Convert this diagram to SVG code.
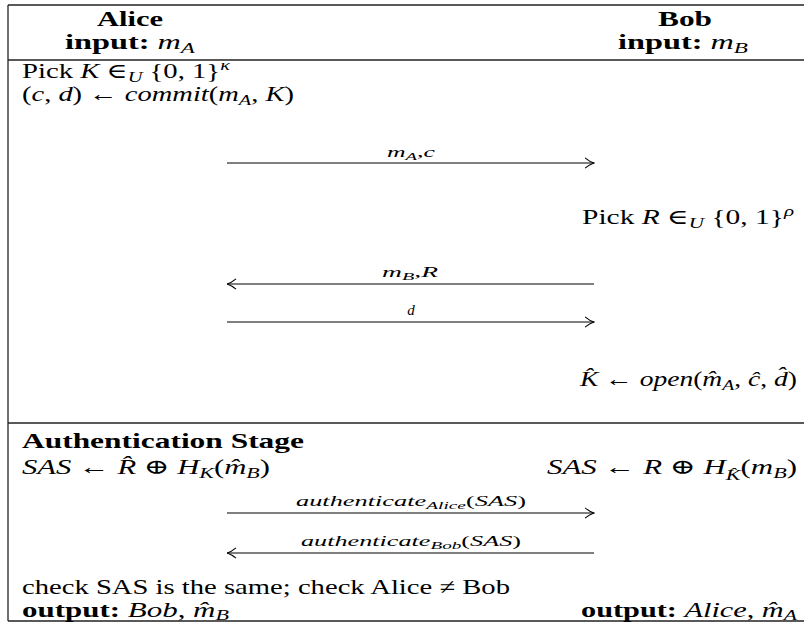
<svg xmlns="http://www.w3.org/2000/svg" width="804" height="623" viewBox="0 0 804 623">
<style>
.t{font-family:"Liberation Serif","DejaVu Serif",serif;font-size:21px;fill:#000}
.b{font-weight:bold}
.i{font-style:italic}
.s{font-size:15px}
.ss{font-size:11px}
.lab{font-size:15px}
.rule{stroke:#222;stroke-width:1.3;fill:none}
.arr{stroke:#000;stroke-width:1.1;fill:none;marker-end:url(#ah)}
</style>
<defs>
<marker id="ah" viewBox="0 0 10 12" refX="9.5" refY="6" markerWidth="10" markerHeight="12" markerUnits="userSpaceOnUse" orient="auto">
<path d="M0.5,0.8 Q5,4.6 9.5,6 Q5,7.4 0.5,11.2" fill="none" stroke="#000" stroke-width="1.1"/>
</marker>
</defs>
<rect width="804" height="623" fill="#fff"/>
<g id="frame">
<line class="rule" x1="8" y1="5" x2="804" y2="5"/>
<line class="rule" x1="8" y1="5" x2="8" y2="621"/>
<line class="rule" x1="8" y1="60" x2="804" y2="60"/>
<line class="rule" x1="8" y1="423" x2="804" y2="423"/>
<line class="rule" x1="8" y1="621" x2="804" y2="621"/>
</g>
<g id="alice-header">
<text class="t b" x="130" y="26" text-anchor="middle" textLength="66" lengthAdjust="spacingAndGlyphs">Alice</text>
<text class="t" x="130" y="49" text-anchor="middle" textLength="130" lengthAdjust="spacingAndGlyphs"><tspan class="b">input:</tspan> <tspan class="i">m</tspan><tspan class="i s" dy="4">A</tspan></text>
</g>
<g id="bob-header">
<text class="t b" x="685" y="26" text-anchor="middle" textLength="54" lengthAdjust="spacingAndGlyphs">Bob</text>
<text class="t" x="683" y="49" text-anchor="middle" textLength="130" lengthAdjust="spacingAndGlyphs"><tspan class="b">input:</tspan> <tspan class="i">m</tspan><tspan class="i s" dy="4">B</tspan></text>
</g>
<g id="alice-commit">
<text class="t" x="22" y="78" textLength="208" lengthAdjust="spacingAndGlyphs">Pick <tspan class="i">K</tspan> ∈<tspan class="i s" dy="4">U</tspan><tspan dy="-4"> {0, 1}</tspan><tspan class="i s" dy="-8">κ</tspan></text>
<text class="t" x="22" y="101" textLength="272" lengthAdjust="spacingAndGlyphs">(<tspan class="i">c</tspan>, <tspan class="i">d</tspan>) ← <tspan class="i">commit</tspan>(<tspan class="i">m</tspan><tspan class="i s" dy="4">A</tspan><tspan dy="-4">, </tspan><tspan class="i">K</tspan>)</text>
</g>
<g id="bob-pick">
<text class="t" x="794" y="224" text-anchor="end" textLength="212" lengthAdjust="spacingAndGlyphs">Pick <tspan class="i">R</tspan> ∈<tspan class="i s" dy="4">U</tspan><tspan dy="-4"> {0, 1}</tspan><tspan class="i s" dy="-8">ρ</tspan></text>
</g>
<g id="bob-open">
<text class="t" x="797" y="386" text-anchor="end" textLength="217" lengthAdjust="spacingAndGlyphs"><tspan class="i">K&#x302;</tspan> ← <tspan class="i">open</tspan>(<tspan class="i">m&#x302;</tspan><tspan class="i s" dy="4">A</tspan><tspan dy="-4">, </tspan><tspan class="i">c&#x302;</tspan>, <tspan class="i">d&#x302;</tspan>)</text>
</g>
<g id="auth-stage">
<text class="t b" x="22" y="448" textLength="282" lengthAdjust="spacingAndGlyphs">Authentication Stage</text>
</g>
<g id="alice-sas">
<text class="t" x="22" y="474" textLength="248" lengthAdjust="spacingAndGlyphs"><tspan class="i">SAS</tspan> ← <tspan class="i">R&#x302;</tspan> ⊕ <tspan class="i">H</tspan><tspan class="i s" dy="4">K</tspan><tspan dy="-4">(</tspan><tspan class="i">m&#x302;</tspan><tspan class="i s" dy="4">B</tspan><tspan dy="-4">)</tspan></text>
</g>
<g id="bob-sas">
<text class="t" x="797" y="474" text-anchor="end" textLength="250" lengthAdjust="spacingAndGlyphs"><tspan class="i">SAS</tspan> ← <tspan class="i">R</tspan> ⊕ <tspan class="i">H</tspan><tspan class="i s" dy="6">K&#x302;</tspan><tspan dy="-6">(</tspan><tspan class="i">m</tspan><tspan class="i s" dy="4">B</tspan><tspan dy="-4">)</tspan></text>
</g>
<g id="check">
<text class="t" x="22" y="594" textLength="488" lengthAdjust="spacingAndGlyphs">check SAS is the same; check Alice ≠ Bob</text>
</g>
<g id="alice-output">
<text class="t" x="22" y="617" textLength="207" lengthAdjust="spacingAndGlyphs"><tspan class="b">output:</tspan> <tspan class="i">Bob</tspan>, <tspan class="i">m&#x302;</tspan><tspan class="i s" dy="3">B</tspan></text>
</g>
<g id="bob-output">
<text class="t" x="797" y="617" text-anchor="end" textLength="216" lengthAdjust="spacingAndGlyphs"><tspan class="b">output:</tspan> <tspan class="i">Alice</tspan>, <tspan class="i">m&#x302;</tspan><tspan class="i s" dy="3">A</tspan></text>
</g>
<g id="connectors">
<line class="arr" x1="227" y1="163" x2="594" y2="163"/>
<line class="arr" x1="594" y1="284" x2="227" y2="284"/>
<line class="arr" x1="227" y1="322" x2="594" y2="322"/>
<line class="arr" x1="227" y1="513" x2="594" y2="513"/>
<line class="arr" x1="594" y1="553" x2="227" y2="553"/>
<text class="t lab" x="411" y="157" text-anchor="middle" textLength="48" lengthAdjust="spacingAndGlyphs"><tspan class="i">m</tspan><tspan class="i ss" dy="3">A</tspan><tspan dy="-3">,</tspan><tspan class="i">c</tspan></text>
<text class="t lab" x="410" y="277" text-anchor="middle" textLength="56" lengthAdjust="spacingAndGlyphs"><tspan class="i">m</tspan><tspan class="i ss" dy="3">B</tspan><tspan dy="-3">,</tspan><tspan class="i">R</tspan></text>
<text class="t lab i" x="411" y="315" text-anchor="middle">d</text>
<text class="t lab" x="411" y="506" text-anchor="middle" textLength="230" lengthAdjust="spacingAndGlyphs"><tspan class="i">authenticate</tspan><tspan class="i ss" dy="3">Alice</tspan><tspan dy="-3">(</tspan><tspan class="i">SAS</tspan>)</text>
<text class="t lab" x="411" y="546" text-anchor="middle" textLength="220" lengthAdjust="spacingAndGlyphs"><tspan class="i">authenticate</tspan><tspan class="i ss" dy="3">Bob</tspan><tspan dy="-3">(</tspan><tspan class="i">SAS</tspan>)</text>
</g>
</svg>
